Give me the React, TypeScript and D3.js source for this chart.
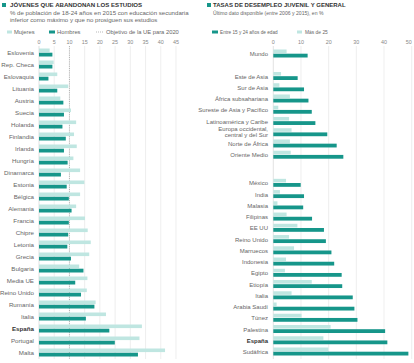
import React from "react";
import * as d3 from "d3";

// Abandono escolar temprano 2015 (%)
const paisesUE = [
  "Eslovenia", "Rep. Checa", "Eslovaquia", "Lituania", "Austria", "Suecia",
  "Holanda", "Finlandia", "Irlanda", "Hungría", "Dinamarca", "Estonia",
  "Bélgica", "Alemania", "Francia", "Chipre", "Letonia", "Grecia", "Bulgaria",
  "Media UE", "Reino Unido", "Rumanía", "Italia", "España", "Portugal", "Malta",
];
const mujeres = [
  3.5, 4.8, 6.0, 9.6, 7.0, 10.5, 12.2, 11.5, 12.4, 11.3, 13.5, 14.9, 13.5,
  12.2, 15.1, 16.0, 17.0, 16.5, 13.2, 15.9, 15.7, 18.6, 22.0, 33.8, 33.0, 41.4,
];
const hombres = [
  4.4, 4.4, 3.1, 6.0, 8.0, 8.2, 7.7, 8.8, 8.2, 9.4, 7.2, 9.1, 9.8, 10.7, 9.8,
  9.6, 9.3, 10.5, 14.6, 11.9, 13.8, 18.2, 15.4, 23.1, 24.9, 32.5,
];
const ticksUE = [0, 5, 10, 15, 20, 25, 30, 35, 40, 45];
const objetivoUE = 10;

// Desempleo juvenil y general (%)
const zonas = [
  "Mundo",
  "Este de Asia", "Sur de Asia", "África subsahariana",
  "Sureste de Asia y Pacífico", "Latinoamérica y Caribe",
  "Europa occidental,\ncentral y del Sur", "Norte de África", "Oriente Medio",
  "México", "India", "Malasia", "Filipinas", "EE UU", "Reino Unido",
  "Marruecos", "Indonesia", "Egipto", "Etiopía", "Italia", "Arabia Saudí",
  "Túnez", "Palestina", "España", "Sudáfrica",
];
const grupos = [0, 1, 1, 1, 1, 1, 1, 1, 1, 2, 2, 2, 2, 2, 2, 2, 2, 2, 2, 2, 2, 2, 2, 2, 2];
const jovenes = [
  12.4, 8.8, 11.1, 12.7, 13.9, 15.2, 19.5, 22.9, 25.3,
  9.9, 11.1, 10.8, 14.0, 18.3, 19.0, 21.0, 22.0, 24.7, 24.9, 28.7, 29.3,
  30.4, 40.4, 41.2, 48.8,
];
const mayores = [
  4.8, 2.8, 2.2, 6.0, 1.8, 5.7, 6.6, 6.0, 6.3,
  4.6, 2.4, 1.5, 4.8, 8.7, 5.7, 7.5, 4.6, 4.2, 13.9, 6.6, 1.2, 10.2, 20.7,
  18.1, 19.9,
];
const ticksDes = [0, 10, 20, 30, 40, 50];

const OSCURO = "#16968a";
const CLARO = "#bfe6e1";
const FONT = "'Liberation Sans', Arial, sans-serif";

export default function App() {
  const W = 414;
  const H = 363;

  const xL = d3.scaleLinear().domain([0, 45]).range([39, 176]);
  const yL = d3.scaleBand<string>().domain(paisesUE).range([47, 359]);

  const xR = d3.scaleLinear().domain([0, 50]).range([273.3, 411.7]);
  const slotR = (i: number) => i + (grupos[i] === 0 ? 0 : grupos[i] === 1 ? 1 : 2.5);
  const yR = d3.scaleLinear().domain([0, 26.5]).range([54, 352]);

  const gridTop = 46;
  const gridBottom = 359;

  return (
    <svg
      width={W}
      height={H}
      style={{ position: "absolute", left: 0, top: 0, background: "#fff" }}
      fontFamily={FONT}
    >
      {/* ---------- panel izquierdo ---------- */}
      <rect x={2} y={3} width={4} height={4} fill={OSCURO} />
      <text x={10} y={7} fontSize={6.1} fontWeight="bold" fill="#333">
        JÓVENES QUE ABANDONAN LOS ESTUDIOS
      </text>
      <text x={10} y={15} fontSize={6.1} fill="#666">
        % de población de 18-24 años en 2015 con educación secundaria
      </text>
      <text x={10} y={22} fontSize={6.1} fill="#666">
        inferior como máximo y que no prosiguen sus estudios
      </text>
      <rect x={7} y={30.5} width={5} height={3} fill={CLARO} />
      <text x={14} y={33.5} fontSize={5.8} fill="#666">Mujeres</text>
      <rect x={49} y={30.5} width={6} height={3} fill={OSCURO} />
      <text x={57} y={33.5} fontSize={5.8} fill="#666">Hombres</text>
      <line x1={96} x2={103} y1={32} y2={32} stroke="#999" strokeWidth={0.7} strokeDasharray="1,1" />
      <text x={106} y={33.5} fontSize={5.8} fill="#666">Objetivo de la UE para 2020</text>

      {ticksUE.map((t) => (
        <g key={`tl${t}`}>
          <line x1={xL(t)} x2={xL(t)} y1={gridTop} y2={gridBottom} stroke={t === 0 ? "#cfcfcf" : "#e2e2e2"} strokeWidth={0.6} />
          <text x={xL(t)} y={44} fontSize={5.4} fill="#888" textAnchor="middle">{t}</text>
        </g>
      ))}
      <line x1={xL(objetivoUE)} x2={xL(objetivoUE)} y1={gridTop} y2={gridBottom} stroke="#888" strokeWidth={0.6} strokeDasharray="1,1.2" />

      {paisesUE.map((p, i) => {
        const c = (yL(p) as number) + yL.bandwidth() / 2;
        return (
          <g key={p}>
            <text
              x={34}
              y={c}
              dy="0.35em"
              fontSize={6.2}
              textAnchor="end"
              fill={p === "España" ? "#333" : "#666"}
              fontWeight={p === "España" ? "bold" : "normal"}
            >
              {p}
            </text>
            <rect x={xL(0)} y={c - 4.5} width={xL(mujeres[i]) - xL(0)} height={3.6} fill={CLARO} />
            <rect x={xL(0)} y={c - 0.3} width={xL(hombres[i]) - xL(0)} height={3.8} fill={OSCURO} />
          </g>
        );
      })}

      {/* ---------- panel derecho ---------- */}
      <rect x={207} y={3} width={4} height={4} fill={OSCURO} />
      <text x={213} y={7} fontSize={6} fontWeight="bold" fill="#333">
        TASAS DE DESEMPLEO JUVENIL Y GENERAL
      </text>
      <text x={213} y={15} fontSize={5.1} fill="#666">
        Último dato disponible (entre 2006 y 2015), en %
      </text>
      <rect x={212} y={30.5} width={6} height={3} fill={OSCURO} />
      <text x={220} y={33.5} fontSize={4.7} fill="#666">Entre 15 y 24 años de edad</text>
      <rect x={297} y={30.5} width={5} height={3} fill={CLARO} />
      <text x={305} y={33.5} fontSize={4.9} fill="#666">Más de 25</text>

      {ticksDes.map((t) => (
        <g key={`tr${t}`}>
          <line x1={xR(t)} x2={xR(t)} y1={gridTop} y2={gridBottom} stroke={t === 0 ? "#cfcfcf" : "#e2e2e2"} strokeWidth={0.6} />
          <text x={xR(t)} y={44} fontSize={5.4} fill="#888" textAnchor={t === 50 ? "end" : "middle"}>{t}</text>
        </g>
      ))}

      {zonas.map((z, i) => {
        const c = yR(slotR(i));
        const lines = z.split("\n");
        const esp = z === "España";
        return (
          <g key={z}>
            <text
              x={268}
              y={lines.length > 1 ? c - 4 : c}
              fontSize={6}
              textAnchor="end"
              fill={esp ? "#333" : "#666"}
              fontWeight={esp ? "bold" : "normal"}
            >
              {lines.map((l, k) => (
                <tspan key={k} x={268} dy={k === 0 ? "0.35em" : "1.05em"}>{l}</tspan>
              ))}
            </text>
            <rect x={xR(0)} y={c - 4.5} width={xR(mayores[i]) - xR(0)} height={3.6} fill={CLARO} />
            <rect x={xR(0)} y={c - 0.3} width={xR(jovenes[i]) - xR(0)} height={3.8} fill={OSCURO} />
          </g>
        );
      })}
    </svg>
  );
}
